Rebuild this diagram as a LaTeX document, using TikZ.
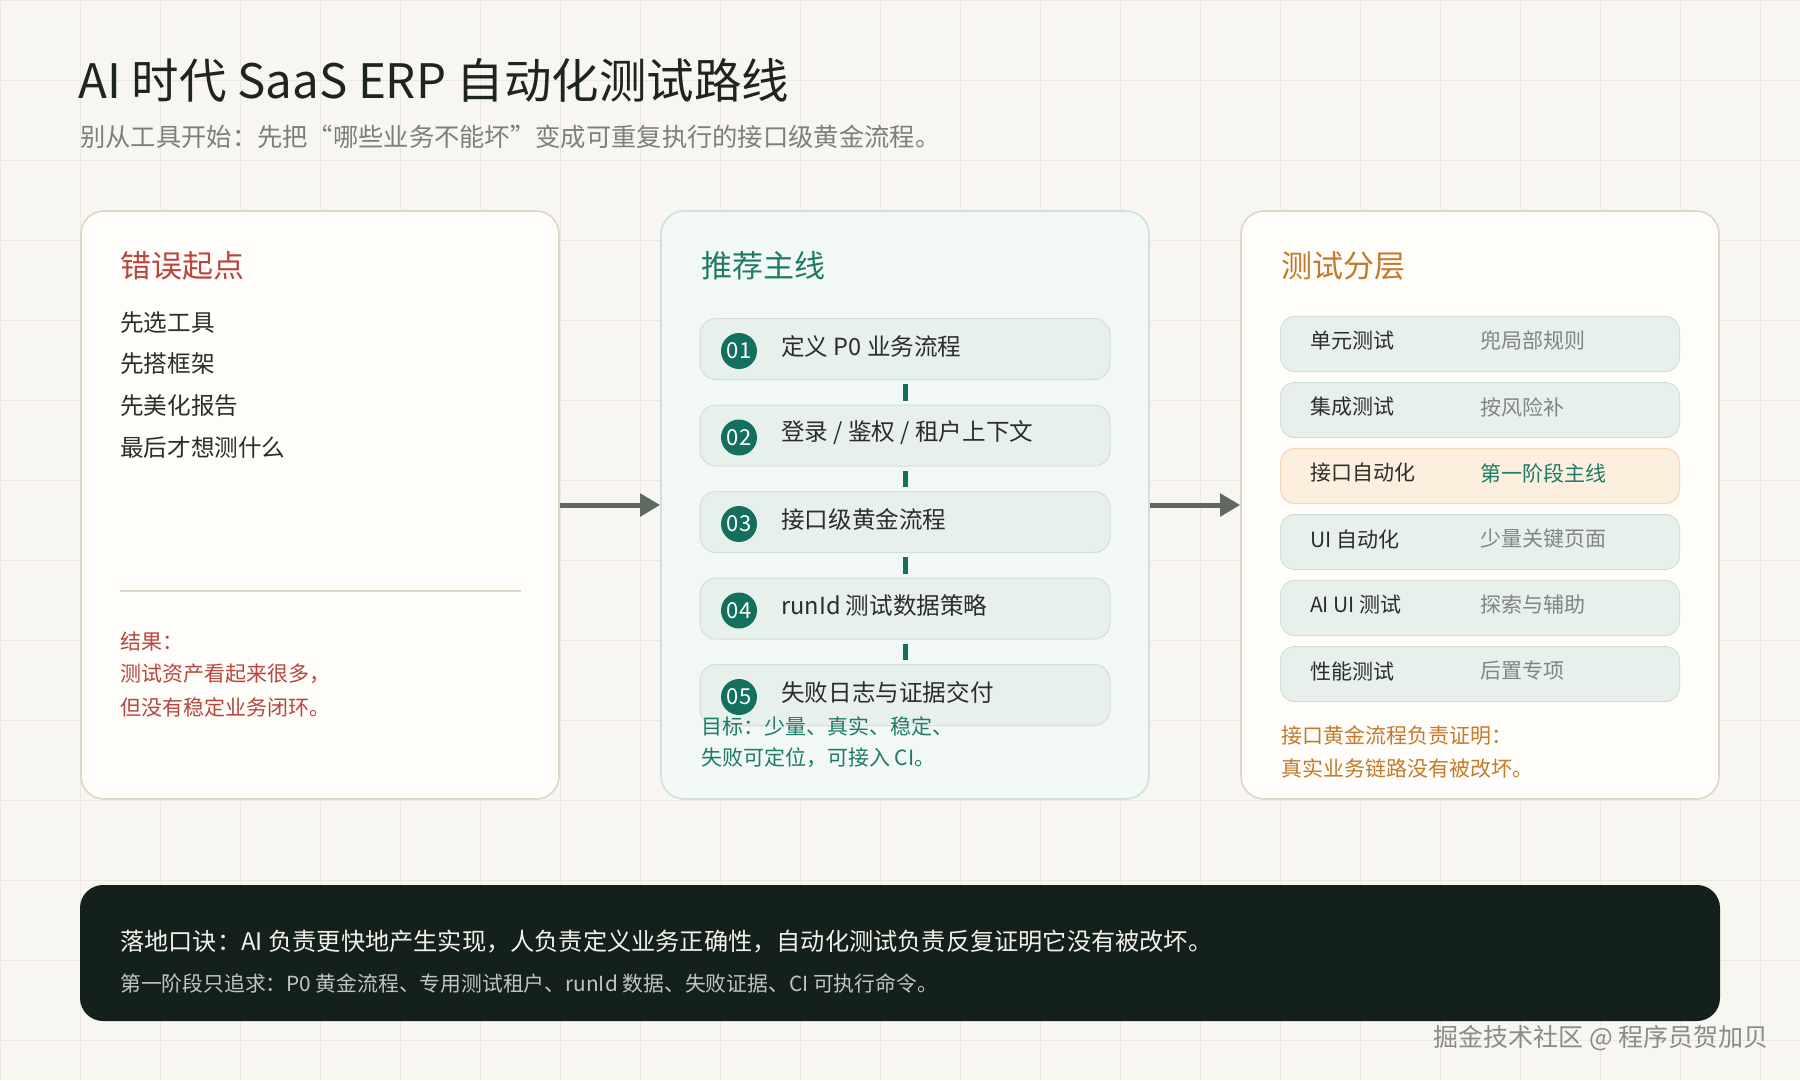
\documentclass[tikz,border=0pt]{standalone}
\usepackage{fontspec}
\setmainfont{Noto Sans CJK SC}
\usetikzlibrary{arrows.meta, positioning}
\definecolor{paper}{HTML}{F8F6F0}
\definecolor{gridline}{HTML}{ECE8DF}
\definecolor{ink}{HTML}{1E2420}
\definecolor{subgray}{HTML}{7E7F7A}
\definecolor{cardbg}{HTML}{FEFDF9}
\definecolor{cardedge}{HTML}{DDD7C6}
\definecolor{mintbg}{HTML}{F2F8F5}
\definecolor{mintedge}{HTML}{CFE2DA}
\definecolor{stepbg}{HTML}{E8F0EC}
\definecolor{stepedge}{HTML}{D3DFD9}
\definecolor{tealdot}{HTML}{13705F}
\definecolor{tealink}{HTML}{1F7A68}
\definecolor{redink}{HTML}{B8463F}
\definecolor{orangeink}{HTML}{C47A2C}
\definecolor{darkink}{HTML}{2A2E2B}
\definecolor{softgray}{HTML}{808682}
\definecolor{peachbg}{HTML}{FCEFDD}
\definecolor{peachedge}{HTML}{F1DAB9}
\definecolor{arrowgray}{HTML}{5E6964}
\definecolor{barbg}{HTML}{14201B}
\definecolor{barwhite}{HTML}{F3F1EA}
\definecolor{bargray}{HTML}{BFC6C1}
\definecolor{wmgray}{HTML}{8A8A8A}
\newcommand{\setpx}[2]{\fontsize{#1}{#2}\selectfont}

\begin{document}
\begin{tikzpicture}[x=1pt, y=-1pt, node distance=24.5pt,
  card/.style={draw=cardedge, fill=cardbg, line width=1.6pt, rounded corners=23pt, minimum height=588pt},
  head/.style={anchor=west, inner sep=0pt, font=\setpx{31}{36}},
  item/.style={anchor=west, inner sep=0pt, text=darkink, font=\setpx{23.6}{28}},
  note/.style={anchor=west, inner sep=0pt, font=\setpx{21}{25}},
  stepbox/.style={draw=stepedge, fill=stepbg, line width=1pt, rounded corners=16pt, minimum width=410pt, minimum height=61pt},
  badge/.style={circle, fill=tealdot, text=white, minimum size=36pt, inner sep=0pt, font=\setpx{22}{22}},
  layer/.style={draw=stepedge, fill=stepbg, line width=1pt, rounded corners=14pt, minimum width=399pt, minimum height=55pt},
  link/.style={draw=tealdot, line width=5pt, shorten >=4pt, shorten <=4pt},
  flow/.style={draw=arrowgray, line width=5pt, -{Triangle[length=20pt, width=22pt]}}]
\useasboundingbox (0,0) rectangle (1800,1080);
\fill[paper] (0,0) rectangle (1800,1080);
\draw[gridline, line width=1pt, step=80pt] (0pt,0pt) grid (1800pt,-1080pt);

\node[anchor=west, inner sep=0pt, text=ink, font=\setpx{47.5}{52}] (title) at (78,80) {AI 时代 SaaS ERP 自动化测试路线};
\node[anchor=west, inner sep=0pt, text=subgray, font=\setpx{25.3}{30}] (subtitle) at (80,137) {别从工具开始：先把“哪些业务不能坏”变成可重复执行的接口级黄金流程。};

% wrong start
\node[card, minimum width=478pt] (wrong) at (320,505) {};
\node[head, text=redink] (wronghead) at (120,266) {错误起点};
\node[item] (w1) at (120,323) {先选工具};
\node[item] (w2) at (120,364) {先搭框架};
\node[item] (w3) at (120,406) {先美化报告};
\node[item] (w4) at (120,448) {最后才想测什么};
\draw[cardedge, line width=1.5pt] (120,591) -- (521,591);
\node[note, text=redink] (wr1) at (120,641) {结果：};
\node[note, text=redink] (wr2) at (120,674) {测试资产看起来很多，};
\node[note, text=redink] (wr3) at (120,707) {但没有稳定业务闭环。};

% main line
\node[card, draw=mintedge, fill=mintbg, minimum width=488pt] (main) at (905,505) {};
\node[head, text=tealink] (mainhead) at (701,266) {推荐主线};
\node[stepbox] (s1) at (905,349) {};
\node[stepbox, below=of s1] (s2) {};
\node[stepbox, below=of s2] (s3) {};
\node[stepbox, below=of s3] (s4) {};
\node[stepbox, below=of s4] (s5) {};
\node[badge] (b1) at ([xshift=-166pt, yshift=-2pt] s1.center) {01};
\node[badge] (b2) at ([xshift=-166pt, yshift=-2pt] s2.center) {02};
\node[badge] (b3) at ([xshift=-166pt, yshift=-2pt] s3.center) {03};
\node[badge] (b4) at ([xshift=-166pt, yshift=-2pt] s4.center) {04};
\node[badge] (b5) at ([xshift=-166pt, yshift=-2pt] s5.center) {05};
\node[item] (t1) at ([xshift=-124pt, yshift=3pt] s1.center) {定义 P0 业务流程};
\node[item] (t2) at ([xshift=-124pt, yshift=3pt] s2.center) {登录 / 鉴权 / 租户上下文};
\node[item] (t3) at ([xshift=-124pt, yshift=3pt] s3.center) {接口级黄金流程};
\node[item] (t4) at ([xshift=-124pt, yshift=3pt] s4.center) {runId 测试数据策略};
\node[item] (t5) at ([xshift=-124pt, yshift=3pt] s5.center) {失败日志与证据交付};
\draw[link] (s1) -- (s2);
\draw[link] (s2) -- (s3);
\draw[link] (s3) -- (s4);
\draw[link] (s4) -- (s5);
\node[note, text=tealink] (goal1) at (701,726) {目标：少量、真实、稳定、};
\node[note, text=tealink] (goal2) at (701,758) {失败可定位，可接入 CI。};

% test layers
\node[card, minimum width=478pt] (layers) at (1480,505) {};
\node[head, text=orangeink] (layershead) at (1281,266) {测试分层};
\node[layer] (l1) at (1480,344) {};
\node[layer, below=10pt of l1] (l2) {};
\node[layer, below=10pt of l2, draw=peachedge, fill=peachbg] (l3) {};
\node[layer, below=10pt of l3] (l4) {};
\node[layer, below=10pt of l4] (l5) {};
\node[layer, below=10pt of l5] (l6) {};
\node[note, text=darkink] (n1) at ([xshift=-170pt, yshift=3pt] l1.center) {单元测试};
\node[note, text=darkink] (n2) at ([xshift=-170pt, yshift=3pt] l2.center) {集成测试};
\node[note, text=darkink] (n3) at ([xshift=-170pt, yshift=3pt] l3.center) {接口自动化};
\node[note, text=darkink] (n4) at ([xshift=-170pt, yshift=3pt] l4.center) {UI 自动化};
\node[note, text=darkink] (n5) at ([xshift=-170pt, yshift=3pt] l5.center) {AI UI 测试};
\node[note, text=darkink] (n6) at ([xshift=-170pt, yshift=3pt] l6.center) {性能测试};
\node[note, text=softgray] (d1) at ([yshift=3pt] l1.center) {兜局部规则};
\node[note, text=softgray] (d2) at ([yshift=3pt] l2.center) {按风险补};
\node[note, text=tealink] (d3) at ([yshift=3pt] l3.center) {第一阶段主线};
\node[note, text=softgray] (d4) at ([yshift=3pt] l4.center) {少量关键页面};
\node[note, text=softgray] (d5) at ([yshift=3pt] l5.center) {探索与辅助};
\node[note, text=softgray] (d6) at ([yshift=3pt] l6.center) {后置专项};
\node[note, text=orangeink] (lf1) at (1281,735) {接口黄金流程负责证明：};
\node[note, text=orangeink] (lf2) at (1281,768) {真实业务链路没有被改坏。};

\draw[flow] (wrong) -- (main);
\draw[flow] (main) -- (layers);

% motto bar
\node[fill=barbg, rounded corners=23pt, minimum width=1640pt, minimum height=136pt] (motto) at (900,953) {};
\node[anchor=west, inner sep=0pt, text=barwhite, font=\setpx{24.2}{28}] (motto1) at (120,942) {落地口诀：AI 负责更快地产生实现，人负责定义业务正确性，自动化测试负责反复证明它没有被改坏。};
\node[anchor=west, inner sep=0pt, text=bargray, font=\setpx{20.8}{24}] (motto2) at (120,984) {第一阶段只追求：P0 黄金流程、专用测试租户、runId 数据、失败证据、CI 可执行命令。};
\node[anchor=east, inner sep=0pt, text=wmgray, font=\setpx{25}{30}] (watermark) at (1769,1038) {掘金技术社区 @ 程序员贺加贝};
\end{tikzpicture}
\end{document}
